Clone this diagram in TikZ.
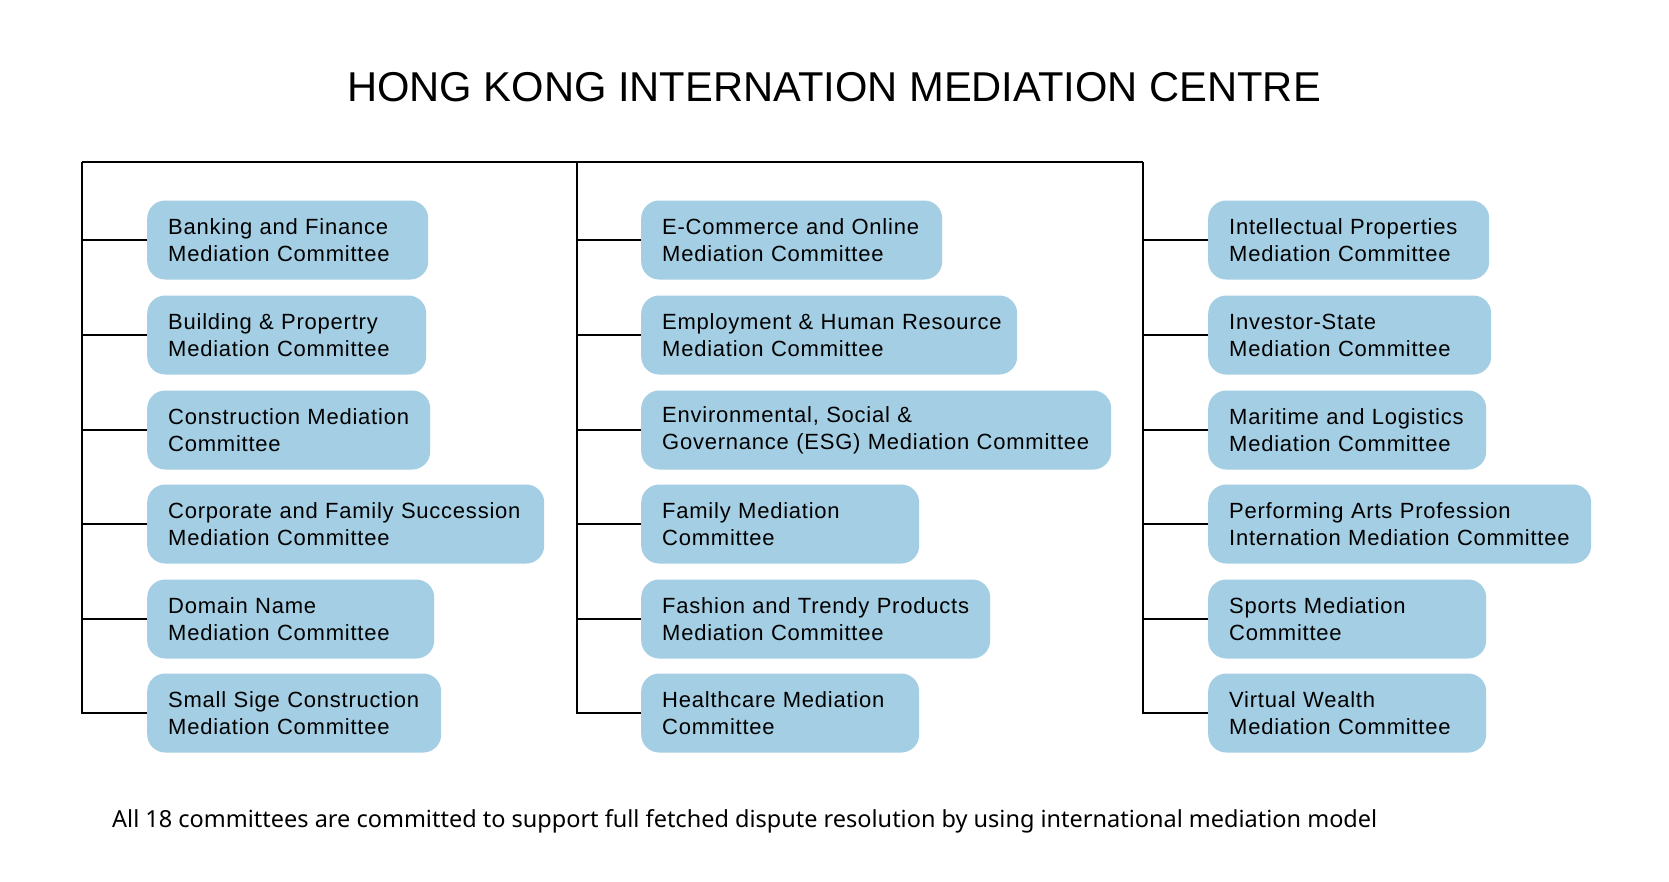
\documentclass[tikz,border=0pt]{standalone}
\usepackage{fontspec}
\setmainfont{Liberation Sans}[LetterSpace=3.5]
\newfontfamily\titlefont{Liberation Sans}
\newfontfamily\footfont{Noto Sans}
\definecolor{boxblue}{RGB}{164,206,227}
\hyphenpenalty=10000
\exhyphenpenalty=10000
\hbadness=10000
\hfuzz=100pt
\begin{document}
\begin{tikzpicture}[x=1pt,y=-1pt,
  cbox/.style={fill=boxblue, rounded corners=18pt, draw=none, anchor=west,
    minimum height=79pt, inner xsep=21pt, inner ysep=0pt, align=left,
    text width=#1-42pt, font=\fontsize{22}{27}\selectfont},
  bus/.style={line width=1.8pt, black}]
\useasboundingbox (0,0) rectangle (1669,881);
\fill[white] (0,0) rectangle (1669,881);
\node[anchor=base, font=\titlefont\fontsize{41.7}{48}\selectfont] (title) at (834,101) {HONG KONG INTERNATION MEDIATION CENTRE};
\coordinate (L0) at (82,162);
\coordinate (M0) at (577,162);
\coordinate (R0) at (1143,162);
% left column
\node[cbox=281pt] (a1) at (147,240) {Banking and Finance\\Mediation Committee};
\node[cbox=279pt] (a2) at (147,335) {Building \& Propertry\\Mediation Committee};
\node[cbox=283pt] (a3) at (147,430) {Construction Mediation\\Committee};
\node[cbox=397pt] (a4) at (147,524) {Corporate and Family Succession\\Mediation Committee};
\node[cbox=287pt] (a5) at (147,619) {Domain Name\\Mediation Committee};
\node[cbox=294pt] (a6) at (147,713) {Small Sige Construction\\Mediation Committee};
% middle column
\node[cbox=301pt] (b1) at (641,240) {E-Commerce and Online\\Mediation Committee};
\node[cbox=376pt] (b2) at (641,335) {\mbox{Employment \& Human Resource}\\Mediation Committee};
\node[cbox=470pt] (b3) at (641,430) {Environmental, Social \&\\Governance (ESG) Mediation Committee};
\node[cbox=278pt] (b4) at (641,524) {Family Mediation\\Committee};
\node[cbox=349pt] (b5) at (641,619) {Fashion and Trendy Products\\Mediation Committee};
\node[cbox=278pt] (b6) at (641,713) {Healthcare Mediation\\Committee};
% right column
\node[cbox=281pt] (c1) at (1208,240) {Intellectual Properties\\Mediation Committee};
\node[cbox=283pt] (c2) at (1208,335) {Investor-State\\Mediation Committee};
\node[cbox=278pt] (c3) at (1208,430) {Maritime and Logistics\\Mediation Committee};
\node[cbox=383pt] (c4) at (1208,524) {Performing Arts Profession\\Internation Mediation Committee};
\node[cbox=278pt] (c5) at (1208,619) {Sports Mediation\\Committee};
\node[cbox=278pt] (c6) at (1208,713) {Virtual Wealth\\Mediation Committee};
% bus lines
\draw[bus] (L0) -- (R0);
\draw[bus] (L0) |- (a6.west);
\draw[bus] (M0) |- (b6.west);
\draw[bus] (R0) |- (c6.west);
\foreach \n in {1,...,5} {
  \draw[bus] (a\n.west) -- (a\n.west -| L0);
  \draw[bus] (b\n.west) -- (b\n.west -| M0);
  \draw[bus] (c\n.west) -- (c\n.west -| R0);
}
\node[anchor=base west, inner sep=0pt] (foot) at (112,827) {\resizebox{1265pt}{!}{\footfont\fontsize{22}{26}\selectfont All 18 committees are committed to support full fetched dispute resolution by using international mediation model}};
\end{tikzpicture}
\end{document}
